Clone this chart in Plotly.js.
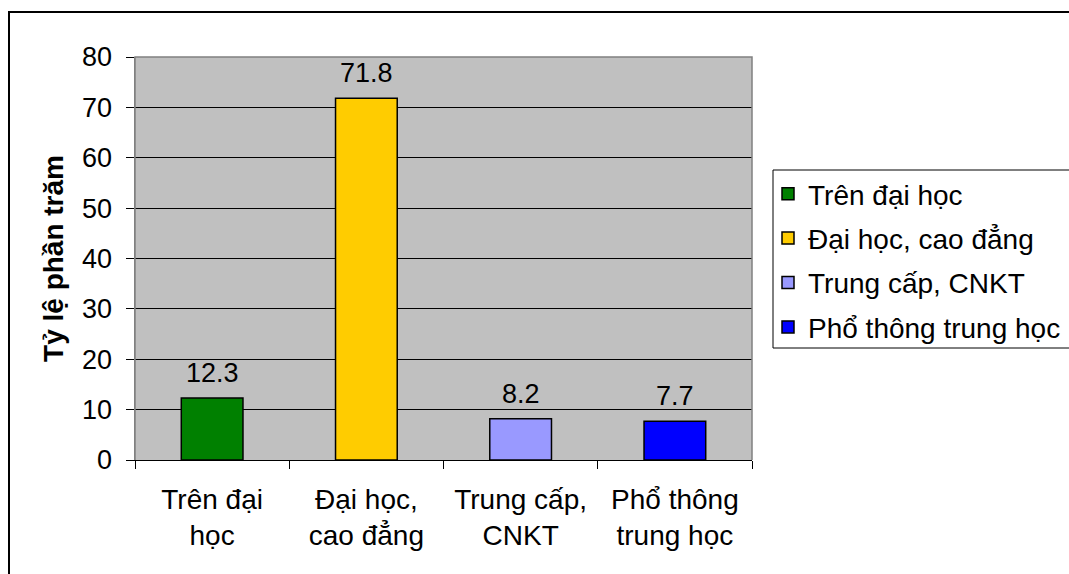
<!DOCTYPE html>
<html>
<head>
<meta charset="utf-8">
<script src="https://cdn.plot.ly/plotly-3.0.1.min.js"></script>
<style>
  html, body { margin: 0; padding: 0; background: #ffffff; }
  #chart { width: 1069px; height: 574px; }
</style>
</head>
<body>
<div id="chart"></div>
<script>
// Education level shares (percent)
const categories = ["Trên đại học", "Đại học, cao đẳng", "Trung cấp, CNKT", "Phổ thông trung học"];
const axisLabels = ["Trên đại<br>học", "Đại học,<br>cao đẳng", "Trung cấp,<br>CNKT", "Phổ thông<br>trung học"];
const values = [12.3, 71.8, 8.2, 7.7];
const barColors = ["#008000", "#FFCC00", "#9999FF", "#0000FF"];
const yTicks = [0, 10, 20, 30, 40, 50, 60, 70, 80];

const FONT = "Liberation Sans, Arial, sans-serif";
const FS_NUM = 27;   // numbers: tick values and bar labels
const FS_TXT = 28;   // words: category labels, legend, axis title

const traces = categories.map((name, i) => ({
  type: "bar",
  name: name,
  x: [axisLabels[i]],
  y: [values[i]],
  width: 0.4,
  legendgroup: "g" + i,
  marker: { color: barColors[i], line: { color: "#000000", width: 1.5 } },
  hoverinfo: "x+y"
}));

// value labels above each bar
const annotations = categories.map((name, i) => ({
  x: axisLabels[i],
  y: values[i],
  xref: "x",
  yref: "y",
  text: String(values[i]),
  showarrow: false,
  yanchor: "bottom",
  yshift: 8,
  font: { family: FONT, size: FS_NUM, color: "#000000" }
}));

// plot area in pixels: x 135..752, y 57..460
const px = v => (v - 135) / 617;
const py = v => (460 - v) / 403;

const shapes = [
  // grey frame of the plotting area (top, left, right)
  { type: "path", xref: "paper", yref: "paper",
    path: "M0,0 L0,1 L1,1 L1,0", line: { color: "#808080", width: 1.5 }, layer: "above" },
  // outer chart frame
  { type: "rect", xref: "paper", yref: "paper",
    x0: px(9), x1: px(1080), y0: py(12), y1: py(585),
    line: { color: "#000000", width: 2 }, layer: "above" },
  // legend frame
  { type: "rect", xref: "paper", yref: "paper",
    x0: px(773), x1: px(1080), y0: py(348), y1: py(170),
    line: { color: "#000000", width: 1 }, layer: "above" }
];

const layout = {
  width: 1069,
  height: 574,
  margin: { l: 135, r: 317, t: 57, b: 114, autoexpand: false },
  paper_bgcolor: "#ffffff",
  plot_bgcolor: "#C0C0C0",
  barmode: "overlay",
  showlegend: true,
  font: { family: FONT, size: FS_NUM, color: "#000000" },
  xaxis: {
    type: "category",
    categoryorder: "array",
    categoryarray: axisLabels,
    showgrid: false,
    zeroline: false,
    showline: true,
    linecolor: "#000000",
    linewidth: 1,
    ticks: "outside",
    tickson: "boundaries",
    ticklen: 8,
    tickcolor: "#000000",
    tickwidth: 1,
    ticklabelstandoff: 14,
    tickfont: { family: FONT, size: FS_TXT, color: "#000000" }
  },
  yaxis: {
    range: [0, 80],
    tickvals: yTicks,
    ticktext: yTicks.map(String),
    showgrid: true,
    gridcolor: "#000000",
    gridwidth: 1,
    zeroline: false,
    showline: true,
    linecolor: "#808080",
    linewidth: 1.5,
    ticks: "outside",
    ticklen: 8,
    tickcolor: "#000000",
    tickwidth: 1,
    ticklabelstandoff: 8,
    tickfont: { family: FONT, size: FS_NUM, color: "#000000" },
    title: {
      text: "<b>Tỷ lệ phần trăm</b>",
      font: { family: FONT, size: FS_TXT, color: "#000000" },
      standoff: 10
    }
  },
  legend: {
    x: px(768),
    xanchor: "left",
    y: py(169),
    yanchor: "top",
    bgcolor: "rgba(0,0,0,0)",
    borderwidth: 0,
    tracegroupgap: 5,
    font: { family: FONT, size: FS_TXT, color: "#000000" },
    itemclick: false,
    itemdoubleclick: false
  },
  annotations: annotations,
  shapes: shapes
};

Plotly.newPlot("chart", traces, layout, { displayModeBar: false, staticPlot: true });
</script>
</body>
</html>
